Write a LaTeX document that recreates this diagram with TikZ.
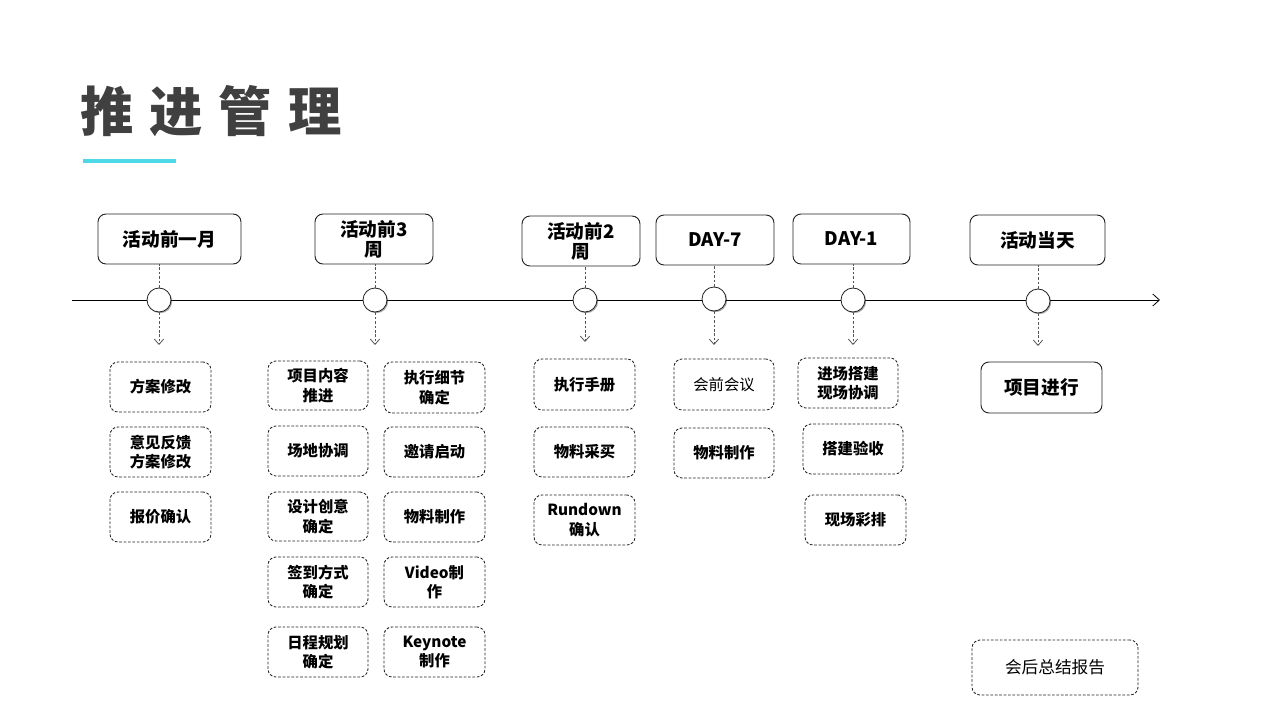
\documentclass[tikz,border=0pt]{standalone}
\usepackage{fontspec}
\newfontfamily\cjk{Noto Sans CJK SC}
\usetikzlibrary{arrows.meta,shadows}
\definecolor{titlegray}{HTML}{404040}
\definecolor{cyanline}{HTML}{4DD9E8}
\definecolor{boxline}{HTML}{222222}
\definecolor{dashline}{HTML}{555555}
\begin{document}
\begin{tikzpicture}[x=0.75pt,y=-0.75pt,
  sz/.style 2 args={minimum width=#1*0.75pt, minimum height=#2*0.75pt},
  head/.style={draw=boxline, line width=0.7pt, rounded corners=6pt, fill=white, align=center, inner sep=1pt,
    font={\cjk\bfseries\fontsize{14}{15}\selectfont}},
  task/.style={draw=boxline, dash pattern=on 2pt off 1.3pt, line width=0.65pt, rounded corners=6pt, align=center, inner sep=1pt,
    font={\cjk\bfseries\fontsize{11.5}{14.5}\selectfont}},
  lighttask/.style={task, font={\cjk\fontsize{11.5}{14.5}\selectfont}},
  dot/.style={circle, draw=boxline, line width=0.6pt, fill=white, minimum size=24*0.75pt, inner sep=0pt,
    drop shadow={shadow xshift=0.9pt, shadow yshift=-0.9pt, opacity=0.35, fill=black}},
  link/.style={draw=dashline, dash pattern=on 2pt off 1.3pt, line width=0.6pt},
  down/.style={link, -{Straight Barb[length=4pt,width=7pt]}},
]
\useasboundingbox[fill=white] (0,0) rectangle (1280,720);

% title
\node[anchor=west, inner sep=0pt, text=titlegray, font={\cjk\bfseries\fontsize{40}{44}\selectfont}] (title) at (80,111)
  {推\hspace{12pt}进\hspace{12pt}管\hspace{12pt}理};
\coordinate (u1) at (83,161);
\coordinate (u2) at (176,161);
\draw[cyanline, line width=2.6pt] (u1) -- (u2);

% timeline
\coordinate (tl0) at (72,300);
\coordinate (tl1) at (1160,300);
\draw[black, line width=0.6pt, -{Straight Barb[length=5pt,width=9pt]}] (tl0) -- (tl1);

% header boxes
\node[head, sz={143}{50}] (h1) at (169.5,239) {活动前一月};
\node[head, sz={118}{50}] (h2) at (374,239) {活动前3\\周};
\node[head, sz={118}{50}] (h3) at (581,241) {活动前2\\周};
\node[head, sz={118}{50}] (h4) at (715,240) {DAY-7};
\node[head, sz={117}{50}] (h5) at (851.5,239) {DAY-1};
\node[head, sz={135}{50}] (h6) at (1037.5,240) {活动当天};

% circles
\node[dot] (c1) at (159,300) {};
\node[dot] (c2) at (375,300) {};
\node[dot] (c3) at (585,300) {};
\node[dot] (c4) at (714,299) {};
\node[dot] (c5) at (853,300) {};
\node[dot] (c6) at (1038,301) {};

\coordinate (a1) at (159,345);
\coordinate (a2) at (375,345);
\coordinate (a3) at (585,342);
\coordinate (a4) at (714,345);
\coordinate (a5) at (853,345);
\coordinate (a6) at (1038,346);

\foreach \i in {1,...,6}{
  \draw[link] (c\i.north) -- (c\i.north |- h\i.south);
  \draw[down] (c\i.south) -- (a\i);
}

% column 1
\node[task, sz={101}{50}] (t11) at (160.5,387) {方案修改};
\node[task, sz={101}{50}] (t12) at (160.5,452) {意见反馈\\方案修改};
\node[task, sz={101}{50}] (t13) at (160.5,517) {报价确认};

% column 2
\node[task, sz={100}{49}] (t21) at (318,385.5) {项目内容\\推进};
\node[task, sz={100}{50}] (t22) at (318,451) {场地协调};
\node[task, sz={100}{49}] (t23) at (318,516.5) {设计创意\\确定};
\node[task, sz={100}{50}] (t24) at (318,582) {签到方式\\确定};
\node[task, sz={100}{50}] (t25) at (318,652) {日程规划\\确定};

\node[task, sz={101}{51}] (t31) at (434.5,387.5) {执行细节\\确定};
\node[task, sz={101}{50}] (t32) at (434.5,452) {邀请启动};
\node[task, sz={101}{50}] (t33) at (434.5,517) {物料制作};
\node[task, sz={101}{50}] (t34) at (434.5,582) {Video制\\作};
\node[task, sz={101}{50}] (t35) at (434.5,652) {Keynote\\制作};

% column 3
\node[task, sz={101}{51}] (t41) at (584.5,384.5) {执行手册};
\node[task, sz={101}{50}] (t42) at (584.5,452) {物料采买};
\node[task, sz={101}{50}] (t43) at (584.5,520) {Rundown\\确认};

% column 4
\node[lighttask, sz={100}{51}] (t51) at (724,384.5) {会前会议};
\node[task, sz={100}{50}] (t52) at (724,453) {物料制作};

% column 5
\node[task, sz={100}{50}] (t61) at (848,383) {进场搭建\\现场协调};
\node[task, sz={100}{50}] (t62) at (853,449) {搭建验收};
\node[task, sz={101}{50}] (t63) at (855.5,520) {现场彩排};

% column 6
\node[head, sz={121}{51}] (t71) at (1041.5,387.5) {项目进行};
\node[lighttask, sz={166}{55}, font={\cjk\fontsize{12.5}{15}\selectfont}] (t72) at (1055,667.5) {会后总结报告};
\end{tikzpicture}
\end{document}
